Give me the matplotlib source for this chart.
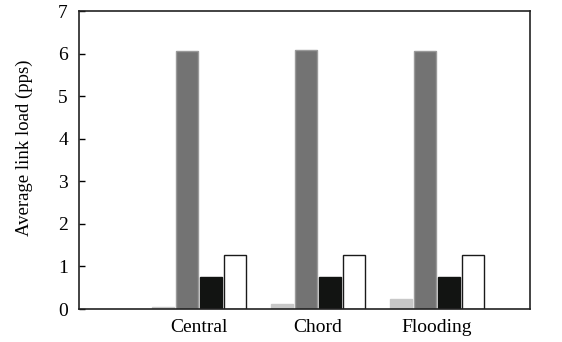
import numpy as np
import matplotlib
matplotlib.use("Agg")
import matplotlib.pyplot as plt

plt.rcParams['font.family'] = ['Liberation Serif', 'DejaVu Serif']

groups = ["Central", "Chord", "Flooding"]
s1 = [0.04, 0.11, 0.23]   # light gray
s2 = [6.06, 6.08, 6.06]   # dark gray
s3 = [0.75, 0.75, 0.75]   # black
s4 = [1.28, 1.28, 1.28]   # white

colors = ["#c8c8c8", "#737373", "#121412", "#ffffff"]
edges = ["#c8c8c8", "#9a9a9a", "#121412", "#1a1a1a"]

fig = plt.figure(figsize=(5.62, 3.42), dpi=100)
ax = fig.add_axes([79/562, 33/342, 451/562, 298/342])

x = np.arange(len(groups))
w = 0.185
offs = [-0.3, -0.1, 0.1, 0.3]
for vals, off, c, e in zip([s1, s2, s3, s4], offs, colors, edges):
    ax.bar(x + off, vals, w, color=c, edgecolor=e, linewidth=1.0)

ax.set_xlim(-1.008, 2.782)
ax.set_ylim(0, 7)
ax.set_yticks(range(0, 8))
ax.set_xticks(x)
ax.set_xticklabels(groups)
ax.tick_params(axis='y', direction='in', length=4, labelsize=14, width=1, pad=8)
ax.tick_params(axis='x', length=0, labelsize=14, pad=7)
for s in ax.spines.values():
    s.set_linewidth(1.2)
    s.set_color("#222222")
ax.set_ylabel("Average link load (pps)", fontsize=13.5)
ax.yaxis.set_label_coords(-0.102, 0.54)

fig.savefig("out.png", dpi=100)
